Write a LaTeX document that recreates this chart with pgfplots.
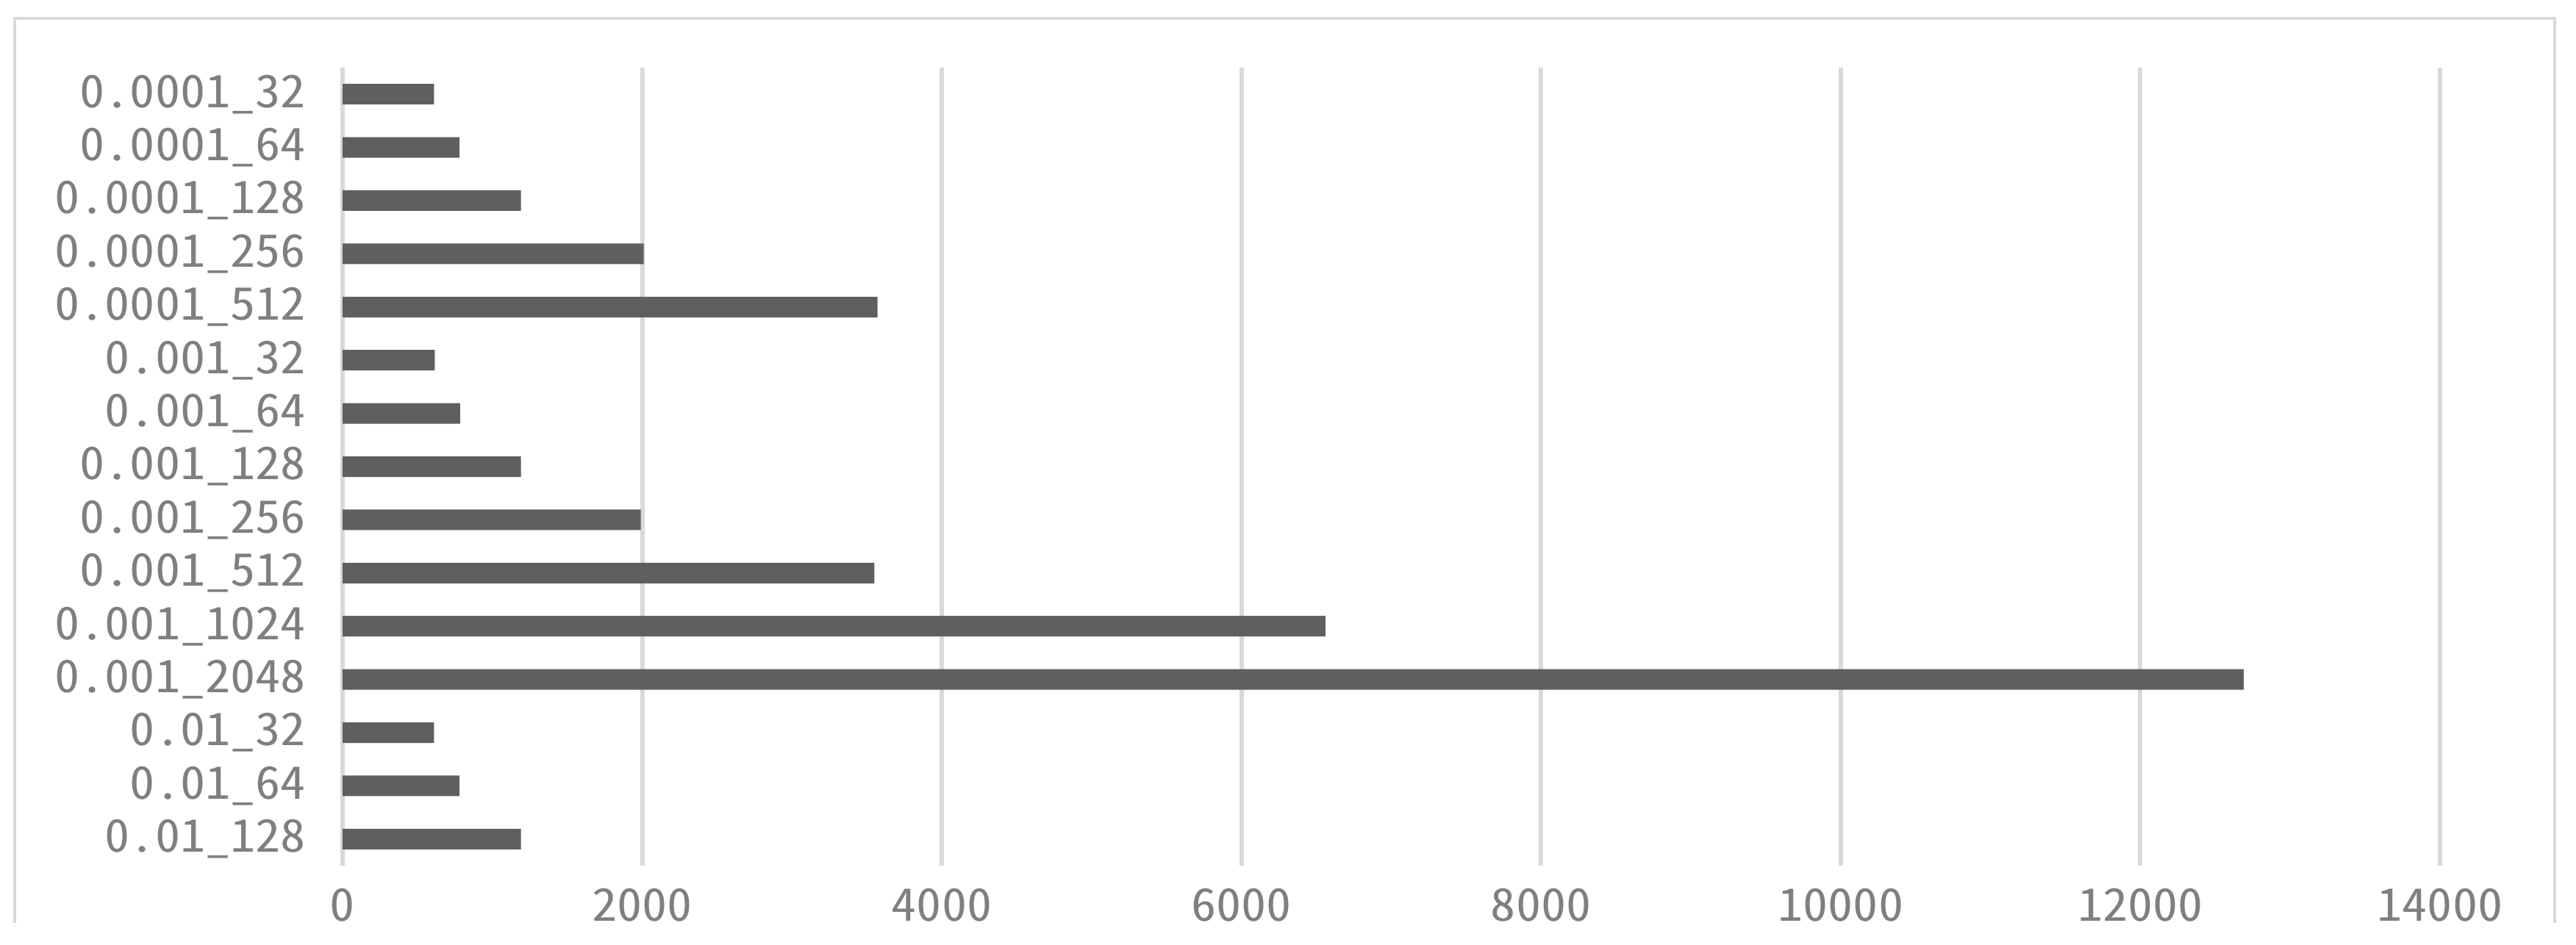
\documentclass[border=0pt]{standalone}
\usepackage{pgfplots}
\pgfplotsset{compat=1.18}
\usepackage{fontspec}
\setmainfont[RawFeature=+hwid, FakeStretch=1.12]{Noto Sans CJK JP}
\definecolor{gridc}{HTML}{D9D9D9}
\definecolor{barc}{HTML}{5F5F5F}
\definecolor{txtc}{HTML}{7F7F7F}
\begin{document}
\begin{tikzpicture}
\useasboundingbox[fill=white] (-93.2pt,-21.4pt) rectangle (607.6pt,235.6pt);
\draw[gridc, line width=0.8pt] (-89.2pt,-15.6pt) -- (-89.2pt,230.6pt) -- (601.8pt,230.6pt) -- (601.8pt,-15.6pt);
\begin{axis}[
  at={(0pt,0pt)}, anchor=south west,
  scale only axis,
  width=570.6pt, height=217.2pt,
  xbar, bar width=5.6pt,
  xmin=0, xmax=14000,
  ymin=-0.5, ymax=14.5,
  xtick={0,2000,4000,6000,8000,10000,12000,14000},
  xticklabels={0,2000,4000,6000,8000,10000,12000,14000},
  ytick={0,...,14},
  yticklabels={0.01\_128,0.01\_64,0.01\_32,0.001\_2048,0.001\_1024,0.001\_512,0.001\_256,0.001\_128,0.001\_64,0.001\_32,0.0001\_512,0.0001\_256,0.0001\_128,0.0001\_64,0.0001\_32},
  xmajorgrids,
  grid style={gridc, line width=1.2pt},
  axis line style={draw=none},
  major tick length=0pt,
  tick style={draw=none},
  ticklabel style={font=\fontsize{12.2}{14}\selectfont, text=txtc},
  yticklabel style={anchor=east, inner sep=0pt, xshift=-9.8pt},
  xticklabel style={anchor=base, inner sep=0pt, yshift=-15pt},
  /pgf/number format/assume math mode=true,
]
\addplot[fill=barc, draw=none] coordinates {
(1190,0) (780,1) (610,2) (12690,3) (6560,4) (3550,5) (1990,6) (1190,7) (785,8) (615,9) (3570,10) (2010,11) (1190,12) (780,13) (610,14)
};
\end{axis}
\end{tikzpicture}
\end{document}
